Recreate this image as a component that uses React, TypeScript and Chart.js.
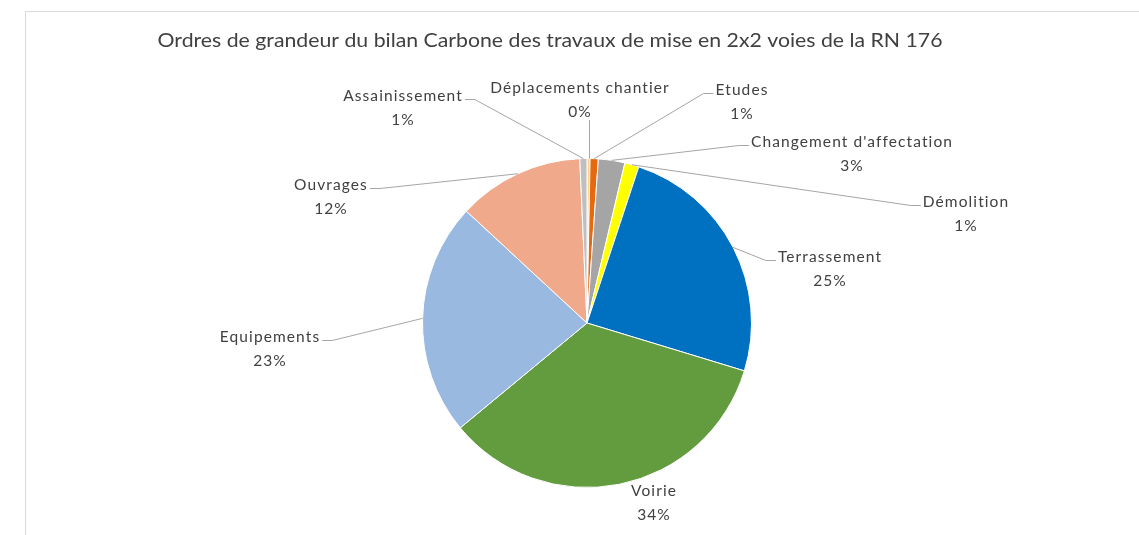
import { useEffect, useRef } from 'react';
import { Chart, registerables } from 'chart.js';

Chart.register(...registerables);

// Chart content
const chartTitle = 'Ordres de grandeur du bilan Carbone des travaux de mise en 2x2 voies de la RN 176';
const categories = [
  'Déplacements chantier',
  'Etudes',
  "Changement d'affectation",
  'Démolition',
  'Terrassement',
  'Voirie',
  'Equipements',
  'Ouvrages',
  'Assainissement',
];
// Share of the carbon footprint, in percent
const shares = [0.3, 0.8, 2.6, 1.4, 24.6, 34.3, 22.9, 12.4, 0.7];
const sliceColors = [
  '#FFD08C',
  '#E4690F',
  '#A5A5A5',
  '#FFFF00',
  '#0070C0',
  '#629C3E',
  '#99B9E0',
  '#F0A98A',
  '#BFBFBF',
];

// Where each category label sits (text centre x, first-line baseline y) and
// which side of the text its leader line leaves from.
type Leader = 'left' | 'right' | 'down' | 'none';
const labelSpots: { x: number; y: number; leader: Leader }[] = [
  { x: 580, y: 93, leader: 'down' },
  { x: 742, y: 95, leader: 'left' },
  { x: 852, y: 147, leader: 'left' },
  { x: 966, y: 207, leader: 'left' },
  { x: 830, y: 262, leader: 'left' },
  { x: 654, y: 496, leader: 'none' },
  { x: 270, y: 342, leader: 'right' },
  { x: 331, y: 190, leader: 'right' },
  { x: 403, y: 101, leader: 'right' },
];

const LABEL_FONT = '15.5px Lato, "Open Sans", sans-serif';
const TEXT_COLOR = '#404040';
const LEADER_COLOR = '#A6A6A6';
const FRAME_COLOR = '#D9D9D9';

const framePlugin = {
  id: 'frameAndTitle',
  beforeDraw(chart: any) {
    const { ctx, width, height } = chart;
    ctx.save();
    ctx.fillStyle = '#FFFFFF';
    ctx.fillRect(0, 0, width, height);
    ctx.strokeStyle = FRAME_COLOR;
    ctx.lineWidth = 1;
    ctx.beginPath();
    ctx.moveTo(25.5, height + 2);
    ctx.lineTo(25.5, 11.5);
    ctx.lineTo(width + 2, 11.5);
    ctx.stroke();

    // Title, fitted to its box width
    ctx.font = '19px Lato, "Open Sans", sans-serif';
    ctx.fillStyle = TEXT_COLOR;
    ctx.textAlign = 'center';
    ctx.textBaseline = 'alphabetic';
    const w = ctx.measureText(chartTitle).width;
    const target = 785;
    const sx = target / w;
    ctx.translate(550, 47);
    ctx.scale(sx, 1);
    ctx.fillText(chartTitle, 0, 0);
    ctx.restore();
  },
};

const calloutPlugin = {
  id: 'callouts',
  afterDatasetsDraw(chart: any) {
    const { ctx } = chart;
    const meta = chart.getDatasetMeta(0);
    const values: number[] = chart.data.datasets[0].data;
    const total = values.reduce((a, b) => a + b, 0);
    ctx.save();
    ctx.font = LABEL_FONT;
    (ctx as any).letterSpacing = '1.1px';
    ctx.textAlign = 'center';
    ctx.textBaseline = 'alphabetic';

    meta.data.forEach((arc: any, i: number) => {
      const spot = labelSpots[i];
      const name = chart.data.labels[i] as string;
      const pct = `${Math.round((values[i] / total) * 100)}%`;
      const { x, y, startAngle, endAngle, outerRadius } = arc.getProps(
        ['x', 'y', 'startAngle', 'endAngle', 'outerRadius'],
        true
      );
      const mid = (startAngle + endAngle) / 2;
      const px = x + Math.cos(mid) * outerRadius;
      const py = y + Math.sin(mid) * outerRadius;
      const tw = ctx.measureText(name).width;

      ctx.strokeStyle = LEADER_COLOR;
      ctx.lineWidth = 1;
      ctx.beginPath();
      if (spot.leader === 'left') {
        const ly = spot.y - 1.5;
        const sx = spot.x - tw / 2 - 2;
        ctx.moveTo(sx, ly);
        ctx.lineTo(sx - 10, ly);
        ctx.lineTo(px, py);
        ctx.stroke();
      } else if (spot.leader === 'right') {
        const ly = spot.y - 1.5;
        const sx = spot.x + tw / 2 + 2;
        ctx.moveTo(sx, ly);
        ctx.lineTo(sx + 10, ly);
        ctx.lineTo(px, py);
        ctx.stroke();
      } else if (spot.leader === 'down') {
        const lx = Math.round(px) + 0.5;
        ctx.moveTo(lx, spot.y + 27);
        ctx.lineTo(lx, py);
        ctx.stroke();
      }

      ctx.fillStyle = TEXT_COLOR;
      ctx.fillText(name, spot.x, spot.y);
      ctx.fillText(pct, spot.x, spot.y + 24);
    });
    ctx.restore();
  },
};

export default function App() {
  const canvasRef = useRef<HTMLCanvasElement | null>(null);

  useEffect(() => {
    if (!canvasRef.current) return;
    const chart = new Chart(canvasRef.current, {
      type: 'pie',
      data: {
        labels: categories,
        datasets: [
          {
            data: shares,
            backgroundColor: sliceColors,
            borderColor: '#FFFFFF',
            borderWidth: 1,
          },
        ],
      },
      options: {
        responsive: false,
        animation: false,
        layout: {
          padding: { left: 422, right: 387, top: 158, bottom: 47 },
        },
        plugins: {
          legend: { display: false },
          tooltip: { enabled: false },
          title: { display: false },
        },
      },
      plugins: [framePlugin, calloutPlugin],
    });
    return () => chart.destroy();
  }, []);

  return (
    <div style={{ position: 'absolute', left: 0, top: 0, width: 1139, height: 535, background: '#fff' }}>
      <canvas ref={canvasRef} width={1139} height={535} style={{ display: 'block' }} />
    </div>
  );
}
